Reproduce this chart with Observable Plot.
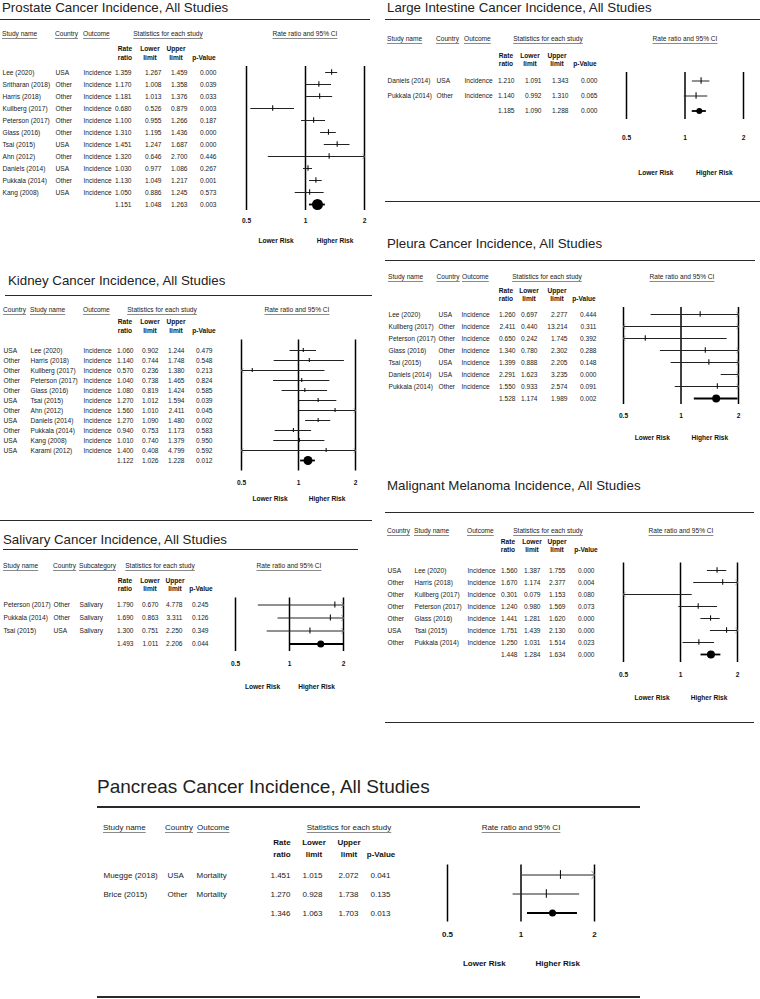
<!DOCTYPE html>
<html><head><meta charset="utf-8">
<script src="https://cdn.jsdelivr.net/npm/d3@7"></script>
<script src="https://cdn.jsdelivr.net/npm/@observablehq/plot@0.6"></script>
<style>
html,body{margin:0;padding:0;background:#fff;}
#page{position:relative;width:760px;height:999px;overflow:hidden;font-family:"Liberation Sans",Arial,sans-serif;color:#111;}
.panel{position:absolute;}
.panel svg{position:absolute;left:0;top:0;overflow:visible;}
.t{position:absolute;white-space:nowrap;line-height:1;}
.u{text-decoration:underline;text-decoration-color:#8a8a8a;text-underline-offset:1.5px;}
.rule{position:absolute;height:0;}
</style></head><body><div id="page"></div>
<script>
// ---------------- DATA ----------------
const prostateStudy = ["Lee (2020)","Sritharan (2018)","Harris (2018)","Kullberg (2017)","Peterson (2017)","Glass (2016)","Tsai (2015)","Ahn (2012)","Daniels (2014)","Pukkala (2014)","Kang (2008)"];
const prostateCountry = ["USA","Other","Other","Other","Other","Other","USA","Other","USA","Other","USA"];
const prostateOutcome = ["Incidence","Incidence","Incidence","Incidence","Incidence","Incidence","Incidence","Incidence","Incidence","Incidence","Incidence"];
const prostateRR = [1.359,1.170,1.181,0.680,1.100,1.310,1.451,1.320,1.030,1.130,1.050];
const prostateLo = [1.267,1.008,1.013,0.526,0.955,1.195,1.247,0.646,0.977,1.049,0.886];
const prostateHi = [1.459,1.358,1.376,0.879,1.266,1.436,1.687,2.700,1.086,1.217,1.245];
const prostateP  = [0.000,0.039,0.033,0.003,0.187,0.000,0.000,0.446,0.267,0.001,0.573];
const prostateTotal = [1.151,1.048,1.263,0.003];

const intestineStudy = ["Daniels (2014)","Pukkala (2014)"];
const intestineCountry = ["USA","Other"];
const intestineOutcome = ["Incidence","Incidence"];
const intestineRR = [1.210,1.140];
const intestineLo = [1.091,0.992];
const intestineHi = [1.343,1.310];
const intestineP  = [0.000,0.065];
const intestineTotal = [1.185,1.090,1.288,0.000];

const kidneyStudy = ["Lee (2020)","Harris (2018)","Kullberg (2017)","Peterson (2017)","Glass (2016)","Tsai (2015)","Ahn (2012)","Daniels (2014)","Pukkala (2014)","Kang (2008)","Karami (2012)"];
const kidneyCountry = ["USA","Other","Other","Other","Other","USA","Other","USA","Other","USA","USA"];
const kidneyOutcome = ["Incidence","Incidence","Incidence","Incidence","Incidence","Incidence","Incidence","Incidence","Incidence","Incidence","Incidence"];
const kidneyRR = [1.060,1.140,0.570,1.040,1.080,1.270,1.560,1.270,0.940,1.010,1.400];
const kidneyLo = [0.902,0.744,0.236,0.738,0.819,1.012,1.010,1.090,0.753,0.740,0.408];
const kidneyHi = [1.244,1.748,1.380,1.465,1.424,1.594,2.411,1.480,1.173,1.379,4.799];
const kidneyP  = [0.479,0.548,0.213,0.824,0.585,0.039,0.045,0.002,0.583,0.950,0.592];
const kidneyTotal = [1.122,1.026,1.228,0.012];

const pleuraStudy = ["Lee (2020)","Kullberg (2017)","Peterson (2017)","Glass (2016)","Tsai (2015)","Daniels (2014)","Pukkala (2014)"];
const pleuraCountry = ["USA","Other","Other","Other","USA","USA","Other"];
const pleuraOutcome = ["Incidence","Incidence","Incidence","Incidence","Incidence","Incidence","Incidence"];
const pleuraRR = [1.260,2.411,0.650,1.340,1.399,2.291,1.550];
const pleuraLo = [0.697,0.440,0.242,0.780,0.888,1.623,0.933];
const pleuraHi = [2.277,13.214,1.745,2.302,2.205,3.235,2.574];
const pleuraP  = [0.444,0.311,0.392,0.288,0.148,0.000,0.091];
const pleuraTotal = [1.528,1.174,1.989,0.002];

const salivaryStudy = ["Peterson (2017)","Pukkala (2014)","Tsai (2015)"];
const salivaryCountry = ["Other","Other","USA"];
const salivaryOutcome = ["Salivary","Salivary","Salivary"];
const salivaryRR = [1.790,1.690,1.300];
const salivaryLo = [0.670,0.863,0.751];
const salivaryHi = [4.778,3.311,2.250];
const salivaryP  = [0.245,0.126,0.349];
const salivaryTotal = [1.493,1.011,2.206,0.044];

const melanomaStudy = ["Lee (2020)","Harris (2018)","Kullberg (2017)","Peterson (2017)","Glass (2016)","Tsai (2015)","Pukkala (2014)"];
const melanomaCountry = ["USA","Other","Other","Other","Other","USA","Other"];
const melanomaOutcome = ["Incidence","Incidence","Incidence","Incidence","Incidence","Incidence","Incidence"];
const melanomaRR = [1.560,1.670,0.301,1.240,1.441,1.751,1.250];
const melanomaLo = [1.387,1.174,0.079,0.980,1.281,1.439,1.031];
const melanomaHi = [1.755,2.377,1.153,1.569,1.620,2.130,1.514];
const melanomaP  = [0.000,0.004,0.080,0.073,0.000,0.000,0.023];
const melanomaTotal = [1.448,1.284,1.634,0.000];

const pancreasStudy = ["Muegge (2018)","Brice (2015)"];
const pancreasCountry = ["USA","Other"];
const pancreasOutcome = ["Mortality","Mortality"];
const pancreasRR = [1.451,1.270];
const pancreasLo = [1.015,0.928];
const pancreasHi = [2.072,1.738];
const pancreasP  = [0.041,0.135];
const pancreasTotal = [1.346,1.063,1.703,0.013];

const axisTicks = [0.5, 1, 2];
const riskLabels = ["Lower Risk", "Higher Risk"];
const statLabels = [["Rate","ratio"],["Lower","limit"],["Upper","limit"],["","p-Value"]];

// ---------------- LAYOUT ----------------
const panels = [
 {name:"prostate", title:"Prostate Cancer Incidence, All Studies", left:0, top:0, width:380, height:255, fs:6.6, tfs:13.3,
  tx:2, ty:8, rules:[[0,370,20,1.5]],
  h1y:34, h1:[["Study name",2,"s"],["Country",55,"s"],["Outcome",83,"s"],["Statistics for each study",168,"m"],["Rate ratio and 95% CI",305,"m"]],
  h2:[49,58,[125,150,176,204]],
  cols:{study:2,country:55,outcome:83,rr:131,lo:161,hi:187,p:216},
  x05:246, x2:364, yTop:66, yBottom:210, labelY:220, riskY:242, dotR:5.5},
 {name:"intestine", title:"Large Intestine Cancer Incidence, All Studies", left:385, top:0, width:375, height:205, fs:6.6, tfs:13.3,
  tx:387, ty:8, rules:[[385,760,20,1.5],[385,760,202,1.5]],
  h1y:39, h1:[["Study name",387,"s"],["Country",436,"s"],["Outcome",464,"s"],["Statistics for each study",548,"m"],["Rate ratio and 95% CI",685,"m"]],
  h2:[56,64,[506,530,557,585]],
  cols:{study:387,country:436,outcome:464,rr:514,lo:541,hi:568,p:597},
  x05:626, x2:743, yTop:72, yBottom:119, labelY:137, riskY:174, dotR:3},
 {name:"kidney", title:"Kidney Cancer Incidence, All Studies", left:0, top:265, width:380, height:258, fs:6.6, tfs:13.3,
  tx:8, ty:281, rules:[[5,372,296,1.5],[0,372,521,1.5]],
  h1y:310, h1:[["Country",3,"s"],["Study name",30,"s"],["Outcome",83,"s"],["Statistics for each study",162,"m"],["Rate ratio and 95% CI",297,"m"]],
  h2:[322,331,[125,150,176,204]],
  cols:{country:3,study:30,outcome:83,rr:133,lo:158,hi:184,p:212},
  x05:241, x2:355, yTop:339.5, yBottom:470.5, labelY:482, riskY:500, dotR:4.5},
 {name:"pleura", title:"Pleura Cancer Incidence, All Studies", left:385, top:228, width:375, height:225, fs:6.6, tfs:13.3,
  tx:387, ty:244, rules:[[385,755,261,1.5]],
  h1y:277, h1:[["Study name",388,"s"],["Country",436.5,"s"],["Outcome",462,"s"],["Statistics for each study",547,"m"],["Rate ratio and 95% CI",682,"m"]],
  h2:[291,299,[506,529,557,584]],
  cols:{study:388,country:438,outcome:461,rr:515,lo:537,hi:567,p:596},
  x05:623, x2:738, yTop:307, yBottom:404, labelY:415, riskY:439, dotR:4},
 {name:"salivary", title:"Salivary Cancer Incidence, All Studies", left:0, top:525, width:380, height:170, fs:6.6, tfs:13.3,
  tx:3, ty:540, rules:[[3,358,550,1.5]],
  h1y:566, h1:[["Study name",3,"s"],["Country",53,"s"],["Subcategory",79,"s"],["Statistics for each study",160,"m"],["Rate ratio and 95% CI",289,"m"]],
  h2:[581,589,[125,150,175,201]],
  cols:{study:3,country:53,outcome:79,rr:133,lo:158,hi:182,p:208},
  x05:235, x2:343, yTop:597.5, yBottom:651, labelY:663, riskY:688, dotR:3.5},
 {name:"melanoma", title:"Malignant Melanoma Incidence, All Studies", left:385, top:470, width:375, height:256, fs:6.6, tfs:13.3,
  tx:387, ty:486, rules:[[385,754,513,1.5],[385,754,723,1.5]],
  h1y:531, h1:[["Country",387,"s"],["Study name",414,"s"],["Outcome",467,"s"],["Statistics for each study",548,"m"],["Rate ratio and 95% CI",681,"m"]],
  h2:[542,550,[508,532,557,586]],
  cols:{country:387,study:414,outcome:467,rr:517,lo:540,hi:565,p:594},
  x05:623, x2:737, yTop:562.5, yBottom:662, labelY:674, riskY:699, dotR:4},
 {name:"pancreas", title:"Pancreas Cancer Incidence, All Studies", left:90, top:765, width:570, height:234, fs:8, tfs:19,
  tx:97, ty:786, rules:[[97,640,807,2],[97,640,997,2]],
  h1y:828, h1:[["Study name",103,"s"],["Country",165,"s"],["Outcome",197,"s"],["Statistics for each study",349,"m"],["Rate ratio and 95% CI",521,"m"]],
  h2:[843,855,[282,314,349,381]],
  cols:{study:103,country:167,outcome:196,rr:290,lo:322,hi:358,p:390},
  x05:447, x2:594, yTop:864.5, yBottom:921.5, labelY:934, riskY:965, dotR:3.5}
];

const datasets = {
  prostate:[prostateStudy,prostateCountry,prostateOutcome,prostateRR,prostateLo,prostateHi,prostateP,prostateTotal],
  intestine:[intestineStudy,intestineCountry,intestineOutcome,intestineRR,intestineLo,intestineHi,intestineP,intestineTotal],
  kidney:[kidneyStudy,kidneyCountry,kidneyOutcome,kidneyRR,kidneyLo,kidneyHi,kidneyP,kidneyTotal],
  pleura:[pleuraStudy,pleuraCountry,pleuraOutcome,pleuraRR,pleuraLo,pleuraHi,pleuraP,pleuraTotal],
  salivary:[salivaryStudy,salivaryCountry,salivaryOutcome,salivaryRR,salivaryLo,salivaryHi,salivaryP,salivaryTotal],
  melanoma:[melanomaStudy,melanomaCountry,melanomaOutcome,melanomaRR,melanomaLo,melanomaHi,melanomaP,melanomaTotal],
  pancreas:[pancreasStudy,pancreasCountry,pancreasOutcome,pancreasRR,pancreasLo,pancreasHi,pancreasP,pancreasTotal]
};

// chevron symbols for clipped intervals
const chevR = {draw(ctx, size){const s=Math.sqrt(size/Math.PI); ctx.moveTo(-s*0.7,-s); ctx.lineTo(0,0); ctx.lineTo(-s*0.7,s);}};
const chevL = {draw(ctx, size){const s=Math.sqrt(size/Math.PI); ctx.moveTo(s*0.7,-s); ctx.lineTo(0,0); ctx.lineTo(s*0.7,s);}};

const page = document.getElementById("page");

function addText(parent, L, txt, x, y, fs, anchor, opts={}) {
  const el = document.createElement("div");
  el.className = "t" + (opts.u ? " u" : "");
  el.textContent = txt;
  el.style.fontSize = fs + "px";
  el.style.left = (x - L.left) + "px";
  el.style.top = (y - L.top - 0.5*fs) + "px";
  if (opts.b) el.style.fontWeight = "bold";
  if (opts.color) el.style.color = opts.color;
  if (anchor === "m") el.style.transform = "translateX(-50%)";
  if (anchor === "e") el.style.transform = "translateX(-100%)";
  parent.appendChild(el);
}

function build(L) {
  const [study, country, outcome, rr, lo, hi, p, total] = datasets[L.name];
  const rows = study.map((s,i)=>({key:"r"+i, study:s, country:country[i], outcome:outcome[i], rr:rr[i], lo:lo[i], hi:hi[i], p:p[i]}));
  const sum = {key:"total", rr:total[0], lo:total[1], hi:total[2], p:total[3]};
  const all = rows.concat([sum]);
  const step = (L.yBottom - L.yTop) / all.length;
  const fs = L.fs;
  const div = document.createElement("div");
  div.className = "panel";
  Object.assign(div.style, {left:L.left+"px", top:L.top+"px", width:L.width+"px", height:L.height+"px"});
  page.appendChild(div);

  const fmt = v => v.toFixed(3);
  const c = L.cols;
  const txt = (data, field, x, anchor, num) => Plot.text(data, {
    y: "key", text: num ? d => fmt(d[field]) : field, frameAnchor: "left", dx: x - L.left,
    textAnchor: anchor, fontWeight: "normal", fill: "#1a1a1a"
  });

  const chart = Plot.plot({
    width: L.width, height: L.height,
    marginLeft: 0, marginRight: 0,
    marginTop: L.yTop - L.top, marginBottom: L.top + L.height - L.yBottom,
    style: {fontFamily: '"Liberation Sans", Arial, sans-serif', fontSize: fs + "px", fontWeight: "bold", background: "transparent", overflow: "visible", color: "#111"},
    x: {type: "log", domain: [0.5, 2], range: [L.x05 - L.left, L.x2 - L.left], ticks: axisTicks, tickFormat: d => String(d), tickSize: 0, tickPadding: L.labelY - L.yBottom - 0.36*fs, label: null},
    y: {type: "band", domain: all.map(d => d.key), padding: 0, axis: null},
    marks: [
      Plot.ruleX(axisTicks, {stroke: "#000", strokeWidth: 1.5}),
      Plot.ruleY(rows, {y: "key", x1: d => Math.max(d.lo, 0.5), x2: d => Math.min(d.hi, 2), stroke: "#222", strokeWidth: 1}),
      Plot.tickX(rows.filter(d => d.rr >= 0.5 && d.rr <= 2), {x: "rr", y: "key", stroke: "#111", strokeWidth: 1.1, insetTop: step*0.27, insetBottom: step*0.27}),
      Plot.dot(rows.filter(d => d.hi > 2), {x: () => 2, y: "key", symbol: chevR, r: step*0.22, stroke: "#888", strokeWidth: 0.8, fill: "none"}),
      Plot.dot(rows.filter(d => d.lo < 0.5), {x: () => 0.5, y: "key", symbol: chevL, r: step*0.22, stroke: "#888", strokeWidth: 0.8, fill: "none"}),
      Plot.ruleY([sum], {y: "key", x1: d => Math.max(d.lo, 0.5), x2: d => Math.min(d.hi, 2), stroke: "#000", strokeWidth: 1.8}),
      Plot.dot([sum], {x: "rr", y: "key", r: L.dotR, fill: "#000"}),
      Plot.text(riskLabels, {x: [Math.SQRT1_2, Math.SQRT2], text: d => d, frameAnchor: "bottom", dy: L.riskY - L.yBottom, fill: "#111"}),
      txt(rows, "study", c.study, "start", false),
      txt(rows, "country", c.country, "start", false),
      txt(rows, "outcome", c.outcome, "start", false),
      txt(all, "rr", c.rr, "end", true),
      txt(all, "lo", c.lo, "end", true),
      txt(all, "hi", c.hi, "end", true),
      txt(all, "p", c.p, "end", true)
    ]
  });
  div.appendChild(chart);

  // title, rules, headers
  addText(div, L, L.title, L.tx, L.ty, L.tfs, "s", {color: "#222"});
  for (const [x1, x2, y, w] of L.rules) {
    const r = document.createElement("div");
    r.className = "rule";
    Object.assign(r.style, {left: (x1 - L.left) + "px", width: (x2 - x1) + "px", top: (y - L.top - w/2) + "px", borderTop: w + "px solid #2a2a2a"});
    div.appendChild(r);
  }
  for (const [t, x, a] of L.h1) addText(div, L, t, x, L.h1y, fs, a, {u: true, color: "#222"});
  const [y1, y2, centers] = L.h2;
  statLabels.forEach(([a, b], i) => {
    if (a) addText(div, L, a, centers[i], y1, fs, "m", {b: true});
    addText(div, L, b, centers[i], y2, fs, "m", {b: true});
  });
}

panels.forEach(build);
</script></body></html>
